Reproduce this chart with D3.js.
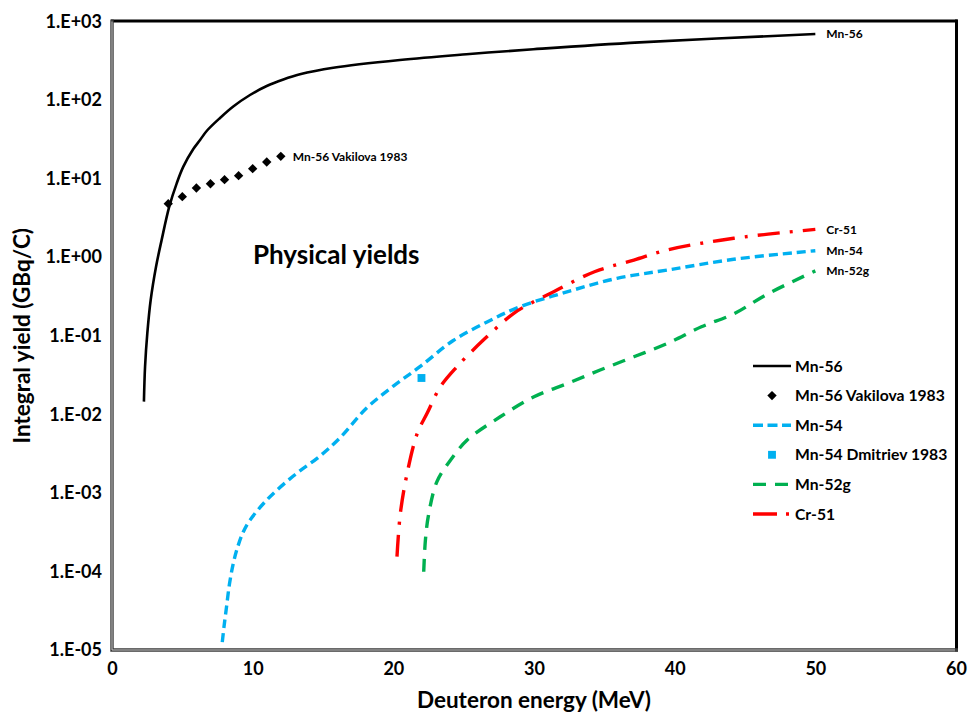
<!DOCTYPE html>
<html>
<head>
<meta charset="utf-8">
<script src="https://cdn.jsdelivr.net/npm/d3@7"></script>
<style>
  html, body { margin: 0; padding: 0; background: #fff; }
  svg { display: block; font-family: Lato, "Open Sans", sans-serif; }
</style>
</head>
<body>
<svg id="chart" width="968" height="712"></svg>
<script>
// Integral (physical) yields of deuteron-induced reactions, GBq/C vs energy, MeV

const energyMn56 = [2.27, 2.35, 2.51, 2.75, 3.13, 3.53, 4.07, 4.6, 5.07, 5.78, 6.26, 6.73, 7.68, 8.62, 9.81, 11.0, 12.18, 13.36, 15.73, 20.47, 25.2, 29.95, 37.5, 50.0];
const yieldMn56  = [0.0145, 0.0404, 0.107, 0.285, 0.757, 1.66, 4.4, 8.7, 14.2, 23.8, 31.0, 40.4, 59.2, 82.8, 116, 151, 183, 213, 258, 324, 383, 443, 543, 693];

const energyVakilova = [4, 5, 6, 7, 8, 9, 10, 11, 12];
const yieldVakilova  = [4.8, 5.9, 7.6, 8.6, 9.7, 10.9, 13.4, 16.3, 19.2];

const energyMn54 = [7.84, 7.96, 8.14, 8.35, 8.6, 8.89, 9.33, 9.81, 11.0, 12.89, 14.78, 16.2, 18.1, 20.0, 21.89, 24.26, 26.7, 29.0, 32.4, 35.9, 39.5, 44.2, 50.0];
const yieldMn54  = [1.26e-5, 1.96e-5, 3.52e-5, 6.9e-5, 1.21e-4, 1.93e-4, 3.18e-4, 4.5e-4, 8.1e-4, 1.64e-3, 2.94e-3, 5.0e-3, 0.0120, 0.0229, 0.0404, 0.087, 0.151, 0.234, 0.364, 0.538, 0.687, 0.94, 1.21];

const energyDmitriev = [22.0];
const yieldDmitriev  = [0.029];

const energyMn52g = [22.16, 22.28, 22.5, 23.1, 24.06, 25.25, 27.6, 30.0, 32.4, 34.7, 37.1, 39.5, 41.9, 44.2, 46.6, 50.0];
const yieldMn52g  = [9.9e-5, 2.5e-4, 5.2e-4, 1.39e-3, 2.6e-3, 4.7e-3, 9.3e-3, 0.0167, 0.0248, 0.0366, 0.054, 0.080, 0.130, 0.190, 0.340, 0.67];

const energyCr51 = [20.26, 20.5, 20.98, 21.7, 22.4, 23.35, 24.5, 26.4, 28.56, 30.0, 31.4, 34.3, 37.1, 39.5, 44.2, 50.0];
const yieldCr51  = [1.54e-4, 5.5e-4, 1.77e-3, 5.7e-3, 0.0103, 0.0225, 0.040, 0.088, 0.193, 0.272, 0.364, 0.653, 0.92, 1.24, 1.74, 2.26];

const xTickValues = [0, 10, 20, 30, 40, 50, 60];
const yTickValues = [1e-5, 1e-4, 1e-3, 1e-2, 1e-1, 1e0, 1e1, 1e2, 1e3];
const yTickLabels = ["1.E-05", "1.E-04", "1.E-03", "1.E-02", "1.E-01", "1.E+00", "1.E+01", "1.E+02", "1.E+03"];

const xTitle = "Deuteron energy (MeV)";
const yTitle = "Integral yield (GBq/C)";
const noteText = "Physical yields";

const zip = (xs, ys) => xs.map((e, i) => ({ e, v: ys[i] }));

const curves = [
  { name: "Mn-56",  pts: zip(energyMn56, yieldMn56),   color: "#000000", width: 2.6, dash: null,         legendDash: null,        endLabel: "Mn-56" },
  { name: "Mn-54",  pts: zip(energyMn54, yieldMn54),   color: "#00B0F0", width: 3.4, dash: "9,5",        legendDash: "10,4.5",    endLabel: "Mn-54" },
  { name: "Mn-52g", pts: zip(energyMn52g, yieldMn52g), color: "#00B050", width: 3.4, dash: "13,9",       legendDash: "13,9",      endLabel: "Mn-52g" },
  { name: "Cr-51",  pts: zip(energyCr51, yieldCr51),   color: "#FF0000", width: 3.4, dash: "22,10,3,10", legendDash: "24,9,3,10", endLabel: "Cr-51" }
];

const markerSets = [
  { name: "Mn-56 Vakilova 1983", pts: zip(energyVakilova, yieldVakilova), color: "#000000", shape: "diamond", label: "Mn-56 Vakilova 1983" },
  { name: "Mn-54 Dmitriev 1983", pts: zip(energyDmitriev, yieldDmitriev), color: "#00B0F0", shape: "square", label: null }
];

const legendOrder = [
  { kind: "line",   ref: "Mn-56" },
  { kind: "marker", ref: "Mn-56 Vakilova 1983" },
  { kind: "line",   ref: "Mn-54" },
  { kind: "marker", ref: "Mn-54 Dmitriev 1983" },
  { kind: "line",   ref: "Mn-52g" },
  { kind: "line",   ref: "Cr-51" }
];

const svg = d3.select("#chart");
const plot = { left: 112, right: 956, top: 21.5, bottom: 650 };

const x = d3.scaleLinear().domain([0, 60]).range([plot.left, plot.right]);
const y = d3.scaleLog().domain([1e-5, 1e3]).range([plot.bottom, plot.top]);

// Axes: labels only, no tick marks
const xAxis = d3.axisBottom(x).tickValues(xTickValues).tickFormat(d3.format("d")).tickSize(0).tickPadding(12);
const yAxis = d3.axisLeft(y).tickValues(yTickValues).tickFormat((d, i) => yTickLabels[i]).tickSize(0).tickPadding(10);

const gx = svg.append("g").attr("transform", `translate(0,${plot.bottom})`).call(xAxis);
const gy = svg.append("g").attr("transform", `translate(${plot.left},0)`).call(yAxis);
[gx, gy].forEach(g => {
  g.select(".domain").remove();
  g.selectAll("text").attr("font-family", "Lato, sans-serif").attr("font-weight", 700)
    .attr("font-size", 18).attr("fill", "#000");
});

// Plot frame: heavy top/right, double-ruled left/bottom
const frame = svg.append("g");
frame.append("line").attr("x1", plot.left - 1).attr("x2", plot.right + 1.5)
  .attr("y1", plot.top - 0.5).attr("y2", plot.top - 0.5).attr("stroke", "#000").attr("stroke-width", 3);
frame.append("line").attr("x1", plot.right + 0.5).attr("x2", plot.right + 0.5)
  .attr("y1", plot.top - 2).attr("y2", plot.bottom + 1.5).attr("stroke", "#000").attr("stroke-width", 3);
frame.append("path")
  .attr("d", `M${plot.left},${plot.top - 2}V${plot.bottom}H${plot.right + 2}`)
  .attr("fill", "none").attr("stroke", "#3a3a3a").attr("stroke-width", 3.4);
frame.append("path")
  .attr("d", `M${plot.left},${plot.top}V${plot.bottom}H${plot.right - 1}`)
  .attr("fill", "none").attr("stroke", "#c8c8c8").attr("stroke-width", 1);

// Curves (smooth spline through the read-off points)
const line = d3.line().x(d => x(d.e)).y(d => y(d.v)).curve(d3.curveCatmullRom.alpha(0.5));
const gCurves = svg.append("g");
curves.forEach(c => {
  gCurves.append("path").datum(c.pts)
    .attr("d", line)
    .attr("fill", "none")
    .attr("stroke", c.color)
    .attr("stroke-width", c.width)
    .attr("stroke-dasharray", c.dash)
    .attr("stroke-linejoin", "round");
  const last = c.pts[c.pts.length - 1];
  gCurves.append("text")
    .attr("x", x(last.e) + 11)
    .attr("y", y(last.v))
    .attr("dy", "0.35em")
    .attr("font-size", 12).attr("font-weight", 700)
    .text(c.endLabel);
});

// Marker shapes
const diamondPath = d3.symbol().type(d3.symbolSquare).size(44);
const squarePath = d3.symbol().type(d3.symbolSquare).size(62);
function drawMarker(g, shape, cx, cy, color) {
  if (shape === "diamond") {
    g.append("path").attr("d", diamondPath())
      .attr("transform", `translate(${cx},${cy}) rotate(45)`).attr("fill", color);
  } else {
    g.append("path").attr("d", squarePath())
      .attr("transform", `translate(${cx},${cy})`).attr("fill", color);
  }
}

const gMarks = svg.append("g");
markerSets.forEach(m => {
  m.pts.forEach(p => drawMarker(gMarks, m.shape, x(p.e), y(p.v), m.color));
  if (m.label) {
    const last = m.pts[m.pts.length - 1];
    gMarks.append("text")
      .attr("x", x(last.e) + 12).attr("y", y(last.v)).attr("dy", "0.35em")
      .attr("font-size", 12).attr("font-weight", 700).text(m.label);
  }
});

// Legend
const legend = svg.append("g").attr("transform", "translate(753,366)");
const rowH = 29.6;
legendOrder.forEach((item, i) => {
  const row = legend.append("g").attr("transform", `translate(0,${i * rowH})`);
  if (item.kind === "line") {
    const c = curves.find(d => d.name === item.ref);
    row.append("line").attr("x1", 0).attr("x2", 38).attr("y1", 0).attr("y2", 0)
      .attr("stroke", c.color).attr("stroke-width", c.width).attr("stroke-dasharray", c.legendDash);
    row.append("text").attr("x", 42).attr("dy", "0.35em")
      .attr("font-size", 15.7).attr("font-weight", 700).text(c.name);
  } else {
    const m = markerSets.find(d => d.name === item.ref);
    drawMarker(row, m.shape, 19, 0, m.color);
    row.append("text").attr("x", 42).attr("dy", "0.35em")
      .attr("font-size", 15.7).attr("font-weight", 700).text(m.name);
  }
});

// Annotation inside plot
svg.append("text").attr("x", 253).attr("y", 264)
  .attr("font-size", 26).attr("font-weight", 700).text(noteText);

// Axis titles
svg.append("text").attr("x", (plot.left + plot.right) / 2).attr("y", 708)
  .attr("text-anchor", "middle").attr("font-size", 22.5).attr("font-weight", 700).text(xTitle);
svg.append("text")
  .attr("transform", `translate(30,${(plot.top + plot.bottom) / 2}) rotate(-90)`)
  .attr("text-anchor", "middle").attr("font-size", 22.5).attr("font-weight", 700).text(yTitle);
</script>
</body>
</html>
